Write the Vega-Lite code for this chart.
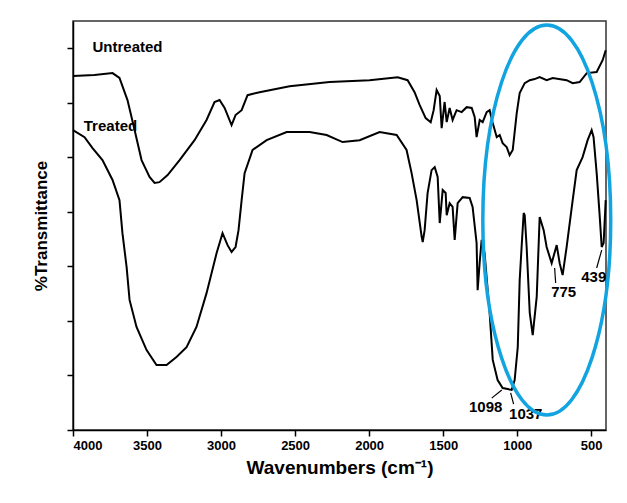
{
  "$schema": "https://vega.github.io/schema/vega-lite/v6.json",
  "width": 533,
  "height": 409,
  "autosize": {"type": "none"},
  "padding": {"left": 73, "top": 21, "right": 21, "bottom": 73},
  "background": "white",
  "config": {
    "view": {"stroke": "#333", "strokeWidth": 1.5, "fill": "white"},
    "axis": {"domainColor": "black", "domainWidth": 1.5, "tickColor": "black", "tickWidth": 1.5, "grid": false,
      "labelFont": "Liberation Sans", "titleFont": "Liberation Sans", "labelColor": "black", "titleColor": "black"}
  },
  "datasets": {
    "spec": [
      {"s": "Untreated", "wn": 4000, "T": 129.8},
      {"s": "Untreated", "wn": 3855, "T": 130.2},
      {"s": "Untreated", "wn": 3733, "T": 130.9},
      {"s": "Untreated", "wn": 3686, "T": 129.1},
      {"s": "Untreated", "wn": 3632, "T": 121.0},
      {"s": "Untreated", "wn": 3584, "T": 110.0},
      {"s": "Untreated", "wn": 3537, "T": 99.0},
      {"s": "Untreated", "wn": 3483, "T": 92.8},
      {"s": "Untreated", "wn": 3449, "T": 90.6},
      {"s": "Untreated", "wn": 3416, "T": 90.9},
      {"s": "Untreated", "wn": 3361, "T": 93.5},
      {"s": "Untreated", "wn": 3280, "T": 99.0},
      {"s": "Untreated", "wn": 3179, "T": 106.3},
      {"s": "Untreated", "wn": 3098, "T": 113.7},
      {"s": "Untreated", "wn": 3044, "T": 120.3},
      {"s": "Untreated", "wn": 3010, "T": 121.0},
      {"s": "Untreated", "wn": 2976, "T": 118.1},
      {"s": "Untreated", "wn": 2929, "T": 111.8},
      {"s": "Untreated", "wn": 2902, "T": 115.5},
      {"s": "Untreated", "wn": 2861, "T": 117.3},
      {"s": "Untreated", "wn": 2821, "T": 122.8},
      {"s": "Untreated", "wn": 2740, "T": 123.9},
      {"s": "Untreated", "wn": 2537, "T": 126.1},
      {"s": "Untreated", "wn": 2267, "T": 127.6},
      {"s": "Untreated", "wn": 1997, "T": 128.3},
      {"s": "Untreated", "wn": 1807, "T": 129.4},
      {"s": "Untreated", "wn": 1740, "T": 128.3},
      {"s": "Untreated", "wn": 1693, "T": 123.9},
      {"s": "Untreated", "wn": 1659, "T": 119.2},
      {"s": "Untreated", "wn": 1618, "T": 114.4},
      {"s": "Untreated", "wn": 1584, "T": 112.9},
      {"s": "Untreated", "wn": 1564, "T": 117.3},
      {"s": "Untreated", "wn": 1544, "T": 124.7},
      {"s": "Untreated", "wn": 1523, "T": 122.5},
      {"s": "Untreated", "wn": 1510, "T": 110.7},
      {"s": "Untreated", "wn": 1490, "T": 120.3},
      {"s": "Untreated", "wn": 1476, "T": 112.9},
      {"s": "Untreated", "wn": 1456, "T": 118.1},
      {"s": "Untreated", "wn": 1436, "T": 113.7},
      {"s": "Untreated", "wn": 1409, "T": 117.3},
      {"s": "Untreated", "wn": 1375, "T": 116.6},
      {"s": "Untreated", "wn": 1341, "T": 118.4},
      {"s": "Untreated", "wn": 1307, "T": 118.1},
      {"s": "Untreated", "wn": 1287, "T": 114.8},
      {"s": "Untreated", "wn": 1274, "T": 107.4},
      {"s": "Untreated", "wn": 1253, "T": 113.7},
      {"s": "Untreated", "wn": 1233, "T": 112.9},
      {"s": "Untreated", "wn": 1206, "T": 116.6},
      {"s": "Untreated", "wn": 1186, "T": 117.3},
      {"s": "Untreated", "wn": 1165, "T": 112.6},
      {"s": "Untreated", "wn": 1138, "T": 107.4},
      {"s": "Untreated", "wn": 1118, "T": 108.2},
      {"s": "Untreated", "wn": 1098, "T": 105.2},
      {"s": "Untreated", "wn": 1071, "T": 103.8},
      {"s": "Untreated", "wn": 1051, "T": 100.8},
      {"s": "Untreated", "wn": 1030, "T": 102.7},
      {"s": "Untreated", "wn": 1003, "T": 116.2},
      {"s": "Untreated", "wn": 983, "T": 123.6},
      {"s": "Untreated", "wn": 949, "T": 127.2},
      {"s": "Untreated", "wn": 915, "T": 128.3},
      {"s": "Untreated", "wn": 882, "T": 128.7},
      {"s": "Untreated", "wn": 848, "T": 129.4},
      {"s": "Untreated", "wn": 801, "T": 128.3},
      {"s": "Untreated", "wn": 760, "T": 129.1},
      {"s": "Untreated", "wn": 666, "T": 128.3},
      {"s": "Untreated", "wn": 625, "T": 127.2},
      {"s": "Untreated", "wn": 578, "T": 127.6},
      {"s": "Untreated", "wn": 530, "T": 130.9},
      {"s": "Untreated", "wn": 463, "T": 131.3},
      {"s": "Untreated", "wn": 422, "T": 135.7},
      {"s": "Untreated", "wn": 402, "T": 139.3},
      {"s": "Treated", "wn": 4000, "T": 110.0},
      {"s": "Treated", "wn": 3922, "T": 107.4},
      {"s": "Treated", "wn": 3868, "T": 103.4},
      {"s": "Treated", "wn": 3801, "T": 99.0},
      {"s": "Treated", "wn": 3733, "T": 91.7},
      {"s": "Treated", "wn": 3686, "T": 84.3},
      {"s": "Treated", "wn": 3666, "T": 72.2},
      {"s": "Treated", "wn": 3638, "T": 59.8},
      {"s": "Treated", "wn": 3618, "T": 47.7},
      {"s": "Treated", "wn": 3571, "T": 37.8},
      {"s": "Treated", "wn": 3503, "T": 29.3},
      {"s": "Treated", "wn": 3436, "T": 23.8},
      {"s": "Treated", "wn": 3368, "T": 23.8},
      {"s": "Treated", "wn": 3301, "T": 26.8},
      {"s": "Treated", "wn": 3233, "T": 30.4},
      {"s": "Treated", "wn": 3166, "T": 37.8},
      {"s": "Treated", "wn": 3098, "T": 50.2},
      {"s": "Treated", "wn": 3030, "T": 64.9},
      {"s": "Treated", "wn": 2990, "T": 72.2},
      {"s": "Treated", "wn": 2956, "T": 67.8},
      {"s": "Treated", "wn": 2929, "T": 65.3},
      {"s": "Treated", "wn": 2902, "T": 67.1},
      {"s": "Treated", "wn": 2882, "T": 73.3},
      {"s": "Treated", "wn": 2861, "T": 84.3},
      {"s": "Treated", "wn": 2841, "T": 94.2},
      {"s": "Treated", "wn": 2787, "T": 102.7},
      {"s": "Treated", "wn": 2692, "T": 106.3},
      {"s": "Treated", "wn": 2557, "T": 109.3},
      {"s": "Treated", "wn": 2402, "T": 109.3},
      {"s": "Treated", "wn": 2287, "T": 108.2},
      {"s": "Treated", "wn": 2179, "T": 105.6},
      {"s": "Treated", "wn": 2064, "T": 106.3},
      {"s": "Treated", "wn": 1929, "T": 109.3},
      {"s": "Treated", "wn": 1814, "T": 108.2},
      {"s": "Treated", "wn": 1747, "T": 102.7},
      {"s": "Treated", "wn": 1713, "T": 94.2},
      {"s": "Treated", "wn": 1679, "T": 84.3},
      {"s": "Treated", "wn": 1645, "T": 70.8},
      {"s": "Treated", "wn": 1638, "T": 68.9},
      {"s": "Treated", "wn": 1625, "T": 73.3},
      {"s": "Treated", "wn": 1605, "T": 86.9},
      {"s": "Treated", "wn": 1578, "T": 95.3},
      {"s": "Treated", "wn": 1557, "T": 96.4},
      {"s": "Treated", "wn": 1537, "T": 92.8},
      {"s": "Treated", "wn": 1523, "T": 75.9},
      {"s": "Treated", "wn": 1503, "T": 88.0},
      {"s": "Treated", "wn": 1483, "T": 86.9},
      {"s": "Treated", "wn": 1476, "T": 78.8},
      {"s": "Treated", "wn": 1456, "T": 83.2},
      {"s": "Treated", "wn": 1436, "T": 81.8},
      {"s": "Treated", "wn": 1422, "T": 69.7},
      {"s": "Treated", "wn": 1402, "T": 83.2},
      {"s": "Treated", "wn": 1368, "T": 85.4},
      {"s": "Treated", "wn": 1321, "T": 85.1},
      {"s": "Treated", "wn": 1301, "T": 81.8},
      {"s": "Treated", "wn": 1274, "T": 68.6},
      {"s": "Treated", "wn": 1267, "T": 51.3},
      {"s": "Treated", "wn": 1253, "T": 61.6},
      {"s": "Treated", "wn": 1240, "T": 69.7},
      {"s": "Treated", "wn": 1220, "T": 64.9},
      {"s": "Treated", "wn": 1186, "T": 42.9},
      {"s": "Treated", "wn": 1165, "T": 25.7},
      {"s": "Treated", "wn": 1132, "T": 18.3},
      {"s": "Treated", "wn": 1098, "T": 15.4},
      {"s": "Treated", "wn": 1064, "T": 15.0},
      {"s": "Treated", "wn": 1037, "T": 14.7},
      {"s": "Treated", "wn": 1017, "T": 18.3},
      {"s": "Treated", "wn": 996, "T": 30.4},
      {"s": "Treated", "wn": 983, "T": 55.0},
      {"s": "Treated", "wn": 970, "T": 67.1},
      {"s": "Treated", "wn": 956, "T": 79.6},
      {"s": "Treated", "wn": 949, "T": 78.8},
      {"s": "Treated", "wn": 936, "T": 67.1},
      {"s": "Treated", "wn": 915, "T": 42.9},
      {"s": "Treated", "wn": 895, "T": 34.8},
      {"s": "Treated", "wn": 868, "T": 48.8},
      {"s": "Treated", "wn": 848, "T": 78.1},
      {"s": "Treated", "wn": 821, "T": 73.3},
      {"s": "Treated", "wn": 801, "T": 67.1},
      {"s": "Treated", "wn": 767, "T": 61.2},
      {"s": "Treated", "wn": 733, "T": 67.8},
      {"s": "Treated", "wn": 713, "T": 61.2},
      {"s": "Treated", "wn": 693, "T": 56.8},
      {"s": "Treated", "wn": 666, "T": 67.1},
      {"s": "Treated", "wn": 625, "T": 84.3},
      {"s": "Treated", "wn": 598, "T": 95.3},
      {"s": "Treated", "wn": 558, "T": 100.1},
      {"s": "Treated", "wn": 524, "T": 106.3},
      {"s": "Treated", "wn": 497, "T": 110.0},
      {"s": "Treated", "wn": 484, "T": 107.4},
      {"s": "Treated", "wn": 463, "T": 94.2},
      {"s": "Treated", "wn": 443, "T": 78.8},
      {"s": "Treated", "wn": 429, "T": 67.1},
      {"s": "Treated", "wn": 416, "T": 68.6},
      {"s": "Treated", "wn": 402, "T": 84.3}
    ],
    "labels": [
      {"label": "Untreated", "wn": 3632, "T": 140.4},
      {"label": "Treated", "wn": 3747, "T": 111.5},
      {"label": "1098", "wn": 1213, "T": 8.4},
      {"label": "1037", "wn": 942, "T": 5.9},
      {"label": "775", "wn": 686, "T": 50.6},
      {"label": "439", "wn": 483, "T": 56.1}
    ],
    "arrows": [
      {"wn": 1172, "T": 11.7, "wn2": 1104, "T2": 14.7},
      {"wn": 1024, "T": 9.5, "wn2": 1044, "T2": 13.6},
      {"wn": 740, "T": 53.9, "wn2": 747, "T2": 59.4},
      {"wn": 463, "T": 59.4, "wn2": 429, "T2": 66.0}
    ],
    "ellipse": [
      {"wn": 800, "T": 77}
    ]
  },
  "layer": [
    {
      "data": {"name": "spec"},
      "mark": {"type": "line", "strokeWidth": 2, "interpolate": "linear"},
      "encoding": {
        "x": {"field": "wn", "type": "quantitative",
          "scale": {"domain": [400, 4000], "reverse": true, "nice": false, "zero": false},
          "axis": {"values": [4000, 3750, 3500, 3250, 3000, 2750, 2500, 2250, 2000, 1750, 1500, 1250, 1000, 750, 500],
            "format": "d", "labelExpr": "datum.value % 500 === 0 ? datum.label : ''",
            "labelFontSize": 13, "labelFontWeight": "bold", "labelPadding": 3, "tickSize": 6,
            "title": "Wavenumbers (cm⁻¹)", "titleFontSize": 19, "titleFontWeight": "bold", "titlePadding": 6}},
        "y": {"field": "T", "type": "quantitative",
          "scale": {"domain": [0, 150], "nice": false},
          "axis": {"values": [0, 10, 20, 30, 40, 50, 60, 70, 80, 90, 100, 110, 120, 130, 140, 150],
            "labels": false, "tickSize": 6,
            "title": "%Transmittance", "titleFontSize": 17, "titleFontWeight": "bold", "titlePadding": 16}},
        "detail": {"field": "s"},
        "color": {"value": "black"},
        "order": {"field": "wn", "sort": "descending"}
      }
    },
    {
      "data": {"name": "arrows"},
      "mark": {"type": "rule", "color": "black", "strokeWidth": 1.2},
      "encoding": {
        "x": {"field": "wn", "type": "quantitative"},
        "y": {"field": "T", "type": "quantitative"},
        "x2": {"field": "wn2"},
        "y2": {"field": "T2"}
      }
    },
    {
      "data": {"name": "labels"},
      "mark": {"type": "text", "font": "Liberation Sans", "fontWeight": "bold", "fontSize": 15, "color": "black", "align": "center", "baseline": "middle"},
      "encoding": {
        "x": {"field": "wn", "type": "quantitative"},
        "y": {"field": "T", "type": "quantitative"},
        "text": {"field": "label"}
      }
    },
    {
      "data": {"name": "ellipse"},
      "mark": {"type": "point", "filled": false, "stroke": "#12a4e0", "strokeWidth": 3.5, "opacity": 1,
        "shape": "M 0 -1 C 0.181 -1 0.328 -0.552 0.328 0 C 0.328 0.552 0.181 1 0 1 C -0.181 1 -0.328 0.552 -0.328 0 C -0.328 -0.552 -0.181 -1 0 -1 Z",
        "size": 152100},
      "encoding": {
        "x": {"field": "wn", "type": "quantitative"},
        "y": {"field": "T", "type": "quantitative"}
      }
    }
  ]
}
